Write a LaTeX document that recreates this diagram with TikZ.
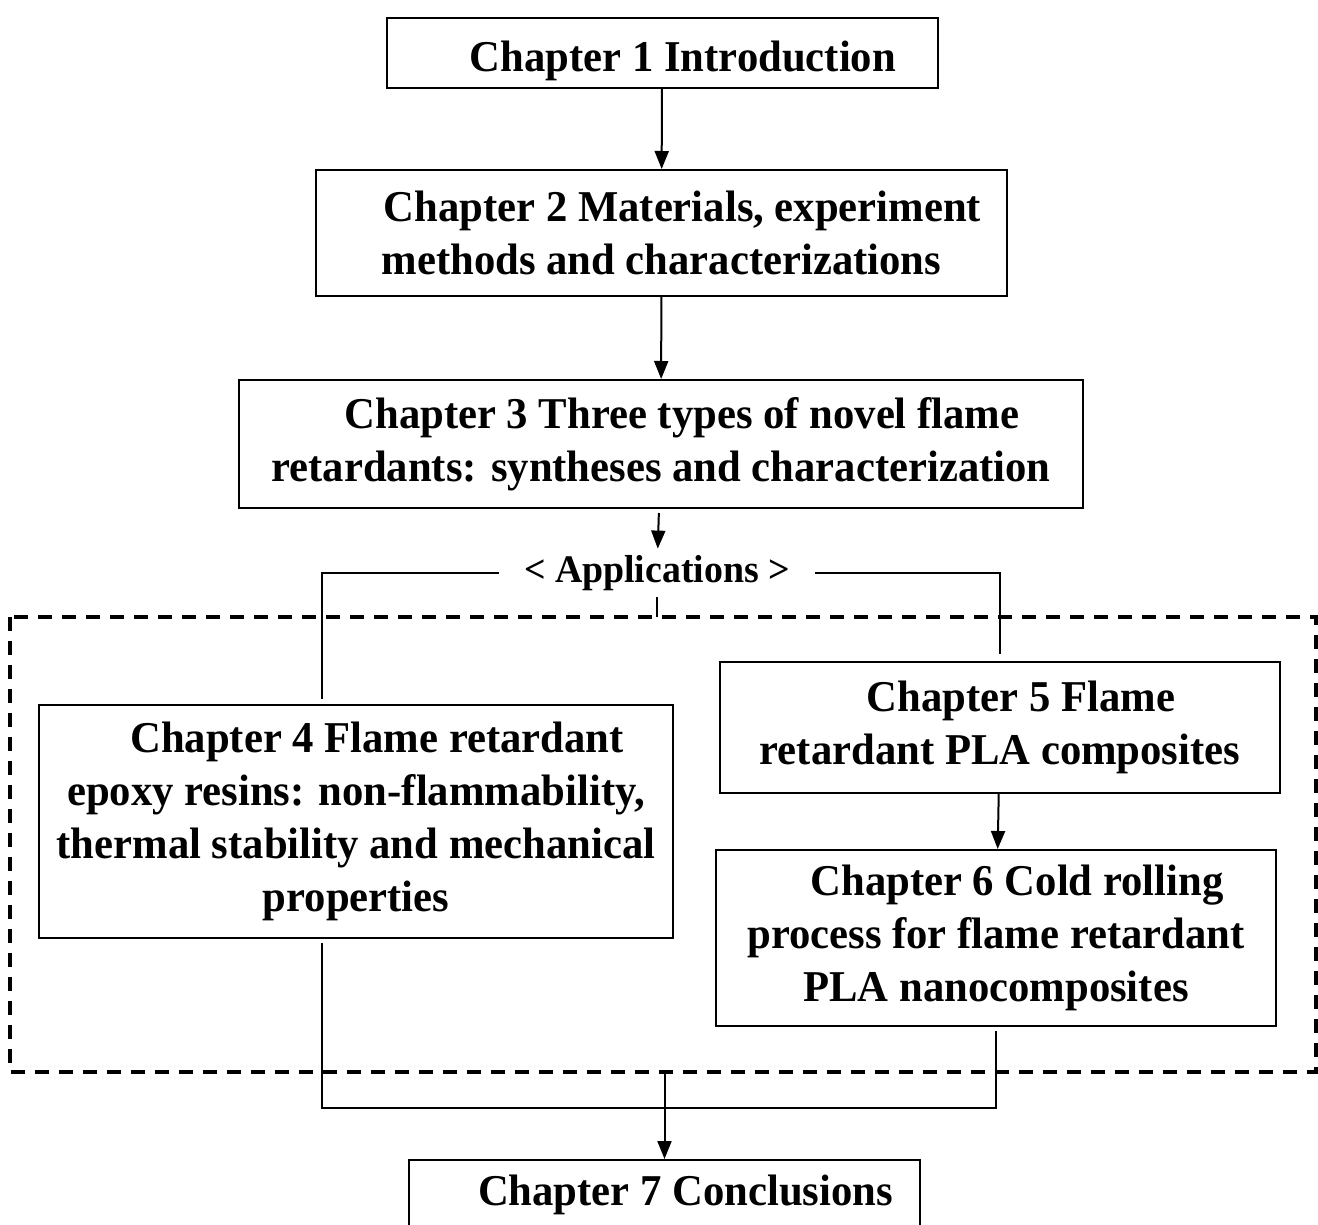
\documentclass[tikz,border=0pt]{standalone}
\usepackage{fontspec}
\setmainfont{Liberation Serif}[FakeStretch=0.97]
\usetikzlibrary{arrows.meta,positioning}
\tikzset{
    chapbox/.style={draw=black,line width=1pt,inner sep=0pt,align=center,
      font=\bfseries\fontsize{22}{26.5}\selectfont},
    applabel/.style={inner xsep=12.5pt,inner ysep=0pt,minimum height=24pt,
      font=\bfseries\fontsize{19.5}{24}\selectfont},
    flowarrow/.style={-{Triangle[length=9pt,width=7pt]},line width=1pt},
    flowline/.style={line width=1pt},
    appframe/.style={line width=1.6pt,dash pattern=on 7pt off 5pt}
}
\newcommand{\firstindent}{\hspace*{21pt}}
\begin{document}
\begin{tikzpicture}[x=0.5pt,y=-0.5pt]
  \useasboundingbox (0,0) rectangle (1318,1225);
  % main chain
  \node[chapbox,minimum width=275.5pt,minimum height=35pt] (ch1) at (662,53)
    {\raisebox{-4pt}[\height][\depth]{\firstindent Chapter 1 Introduction}};
  \node[chapbox,minimum width=345.5pt,minimum height=63pt] (ch2) at (661.5,233)
    {\firstindent Chapter 2 Materials, experiment\\methods and characterizations};
  \node[chapbox,minimum width=422pt,minimum height=64pt] (ch3) at (661,444)
    {\firstindent Chapter 3 Three types of novel flame\\retardants: syntheses and characterization};
  \draw[flowarrow] (ch1) -- (ch2);
  \draw[flowarrow] (ch2) -- (ch3);

  % applications
  \node[applabel] (app) at (657,573) {< Applications >};
  \draw[flowarrow,shorten <=2pt] (ch3) -- (app);
  \coordinate (frameNW) at (10,617);
  \coordinate (frameSE) at (1316,1072);
  \draw[appframe] (frameNW) rectangle (frameSE);

  \node[chapbox,minimum width=317pt,minimum height=116.5pt] (ch4) at (356,821.5)
    {\firstindent Chapter 4 Flame retardant\\epoxy resins: non-flammability,\\thermal stability and mechanical\\properties};
  \node[chapbox,minimum width=280pt,minimum height=65.5pt] (ch5) at (1000,727.5)
    {\firstindent Chapter 5 Flame\\retardant PLA composites};
  \node[chapbox,minimum width=280pt,minimum height=88pt] (ch6) at (996,938)
    {\firstindent Chapter 6 Cold rolling\\process for flame retardant\\PLA nanocomposites};
  \node[chapbox,minimum width=255.5pt,minimum height=35pt] (ch7) at (664.5,1195)
    {\firstindent Chapter 7 Conclusions};

  \draw[flowline,shorten >=2.5pt] (app.west) -| ([xshift=-17pt]ch4.north);
  \draw[flowline,shorten >=3.5pt] (app.east) -| (ch5.north);
  \draw[flowline] (app.south) -- (app.south |- frameNW);
  \draw[flowarrow] (ch5) -- (ch6);

  % back together
  \coordinate (join) at (662,1108);
  \draw[flowline,shorten <=2pt] ([xshift=-17pt]ch4.south) |- (join);
  \draw[flowline,shorten <=2pt] (ch6.south) |- (join);
  \draw[flowarrow] (ch7.north |- frameSE) -- (ch7.north);
\end{tikzpicture}
\end{document}
